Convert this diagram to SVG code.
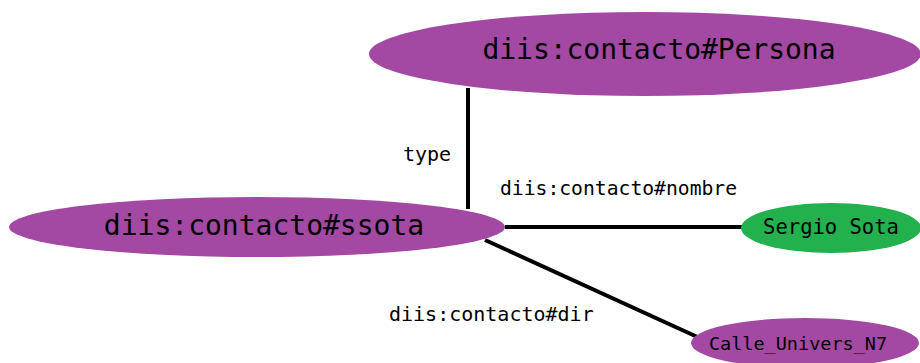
<svg xmlns="http://www.w3.org/2000/svg" width="920" height="363" viewBox="0 0 920 363">
<style>
.p{fill:#A349A4}
.g{fill:#22B14C}
text{font-family:"DejaVu Sans Mono","Liberation Mono",monospace;fill:#000}
.e{stroke:#000;stroke-width:4;fill:none}
</style>
<rect width="920" height="363" fill="#fff"/>
<g id="connectors">
<line class="e" x1="468" y1="88" x2="468" y2="209"/>
<line class="e" x1="505" y1="227" x2="750" y2="227"/>
<line class="e" x1="485" y1="240" x2="704" y2="340"/>
<text x="403" y="161" font-size="20">type</text>
<text x="500" y="195" font-size="19.7">diis:contacto#nombre</text>
<text x="389" y="321" font-size="20">diis:contacto#dir</text>
</g>
<g id="persona">
<ellipse class="p" cx="645" cy="54" rx="276" ry="42"/>
<text x="659" y="59" font-size="28" text-anchor="middle" textLength="353">diis:contacto#Persona</text>
</g>
<g id="ssota">
<ellipse class="p" cx="257" cy="227" rx="248" ry="30"/>
<text x="264" y="235" font-size="28" text-anchor="middle">diis:contacto#ssota</text>
</g>
<g id="sergio">
<ellipse class="g" cx="831" cy="228" rx="90" ry="25"/>
<text x="831" y="234" font-size="20.5" text-anchor="middle">Sergio Sota</text>
</g>
<g id="calle">
<ellipse class="p" cx="805" cy="343" rx="114" ry="25"/>
<text x="798" y="350" font-size="18.5" text-anchor="middle">Calle_Univers_N7</text>
</g>
</svg>
